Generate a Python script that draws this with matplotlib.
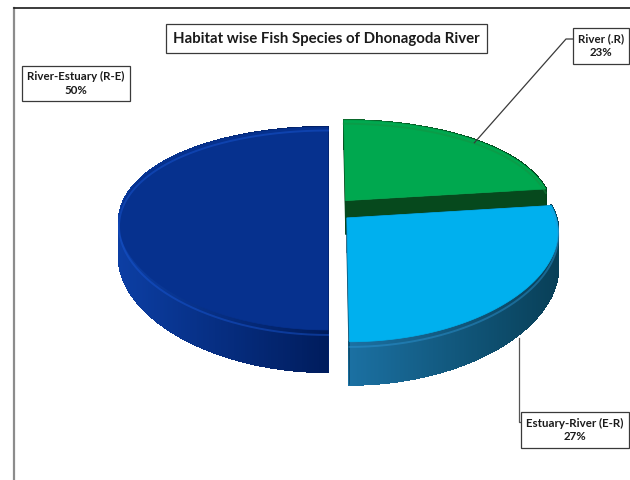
import numpy as np
import matplotlib.pyplot as plt
import matplotlib.colors as mcolors
from matplotlib.patches import Polygon
from matplotlib.collections import PolyCollection

plt.rcParams['font.family'] = ['Lato', 'DejaVu Sans']

# Habitat shares (%), clockwise from 12 o'clock
labels = ["River (.R)", "Estuary-River (E-R)", "River-Estuary (R-E)"]
shares = [23, 27, 50]
explode = [0.13, 0.12, 0.0]

top_colors = ["#00A84F", "#00B0EE", "#06318E"]
wall_light = ["#0B6A2C", "#1B70A2", "#0C3EA3"]
wall_dark = ["#00401A", "#083F57", "#001C5C"]
cut_colors = ["#06491D", "#0A4D6E", "#001F66"]

# projection of the pie plane onto the canvas (pixels, y down)
X0, Y0 = 328.0, 210.0
A, B = 207.5, 98.1
KX, KY = 0.12, 0.182
D = 34.4


def proj(px, py, h=0.0):
    wx = 1 + KX * py
    wy = 1 + KY * py
    return X0 + A * px / wx, Y0 - B * py / wy + D * h / wy


fig = plt.figure(figsize=(6.3, 4.8), dpi=100)
ax = fig.add_axes([0, 0, 1, 1])
ax.set_xlim(0, 630)
ax.set_ylim(480, 0)
ax.axis("off")

# chart frame
ax.plot([13.5, 13.5], [7.5, 480], color="#8c8c8c", lw=1.6)
ax.plot([13.5, 630], [7.5, 7.5], color="#1a1a1a", lw=1.2)

total = float(sum(shares))
bounds = np.concatenate([[0], np.cumsum(shares)]) / total * 360.0

slices = []
for i, s in enumerate(shares):
    t0, t1 = bounds[i], bounds[i + 1]
    mid = np.radians((t0 + t1) / 2)
    cx, cy = explode[i] * np.sin(mid), explode[i] * np.cos(mid)
    slices.append((cy, i, t0, t1, cx))

# far slices first
slices.sort(key=lambda s: -s[0])

for cy, i, t0, t1, cx in slices:
    ts = np.radians(np.linspace(t0, t1, 300))
    px = cx + np.sin(ts)
    py = cy + np.cos(ts)
    xt, yt = proj(px, py, 0)
    xb, yb = proj(px, py, 1)

    # outer wall, shaded left to right
    xmin, xmax = xt.min(), xt.max()
    c_lo = np.array(mcolors.to_rgb(wall_light[i]))
    c_hi = np.array(mcolors.to_rgb(wall_dark[i]))
    quads, cols = [], []
    for j in range(len(ts) - 1):
        quads.append([(xt[j], yt[j]), (xt[j + 1], yt[j + 1]),
                      (xb[j + 1], yb[j + 1]), (xb[j], yb[j])])
        f = ((xt[j] + xt[j + 1]) / 2 - xmin) / (xmax - xmin)
        cols.append(c_lo * (1 - f) + c_hi * f)
    ax.add_collection(PolyCollection(quads, facecolors=cols, edgecolors=cols,
                                     linewidths=1.0, antialiaseds=False))

    # bevel highlight along the top of the wall
    hx, hy = proj(px, py, 0.12)
    ax.plot(hx, hy, color=mcolors.to_hex(np.clip(c_lo * 1.25 + 0.04, 0, 1)),
            lw=1.4, alpha=0.45)

    # radial cut faces
    for t in (t0, t1):
        tr = np.radians(t)
        rx, ry = cx + np.sin(tr), cy + np.cos(tr)
        face = [proj(cx, cy, 0), proj(rx, ry, 0), proj(rx, ry, 1), proj(cx, cy, 1)]
        ax.add_patch(Polygon(face, closed=True, fc=cut_colors[i],
                             ec=cut_colors[i], lw=0.5))

    # top face
    cx0, cy0 = proj(cx, cy, 0)
    top = [(cx0, cy0)] + list(zip(xt, yt))
    ax.add_patch(Polygon(top, closed=True, fc=top_colors[i],
                         ec=top_colors[i], lw=0.5))

box = dict(boxstyle="square,pad=0.45", fc="white", ec="#3a3a3a", lw=0.9)

ax.text(326.5, 38.5, "Habitat wise Fish Species of Dhonagoda River",
        ha="center", va="center", fontsize=10.8, fontweight="bold",
        color="#1a1a1a", bbox=dict(boxstyle="square,pad=0.5", fc="white",
                                   ec="#3a3a3a", lw=0.9))

label_pos = [(601, 46), (575, 430), (76, 83.5)]
for i, (lx, ly) in enumerate(label_pos):
    ax.text(lx, ly, f"{labels[i]}\n{shares[i]}%", ha="center", va="center",
            fontsize=8.3, fontweight="bold", color="#1a1a1a",
            linespacing=1.3, bbox=box)

# leader lines
ang = np.radians(45)
e0 = explode[0]
mid0 = np.radians((bounds[0] + bounds[1]) / 2)
sx, sy = proj(e0 * np.sin(mid0) + np.sin(ang) * 0.97,
              e0 * np.cos(mid0) + np.cos(ang) * 0.97, 0)
ax.plot([sx, 566, 573], [sy, 39, 39], color="#3a3a3a", lw=0.9)

ax.plot([519, 519, 524], [338, 422, 422], color="#555555", lw=0.9)

fig.savefig("out.png", dpi=100)
